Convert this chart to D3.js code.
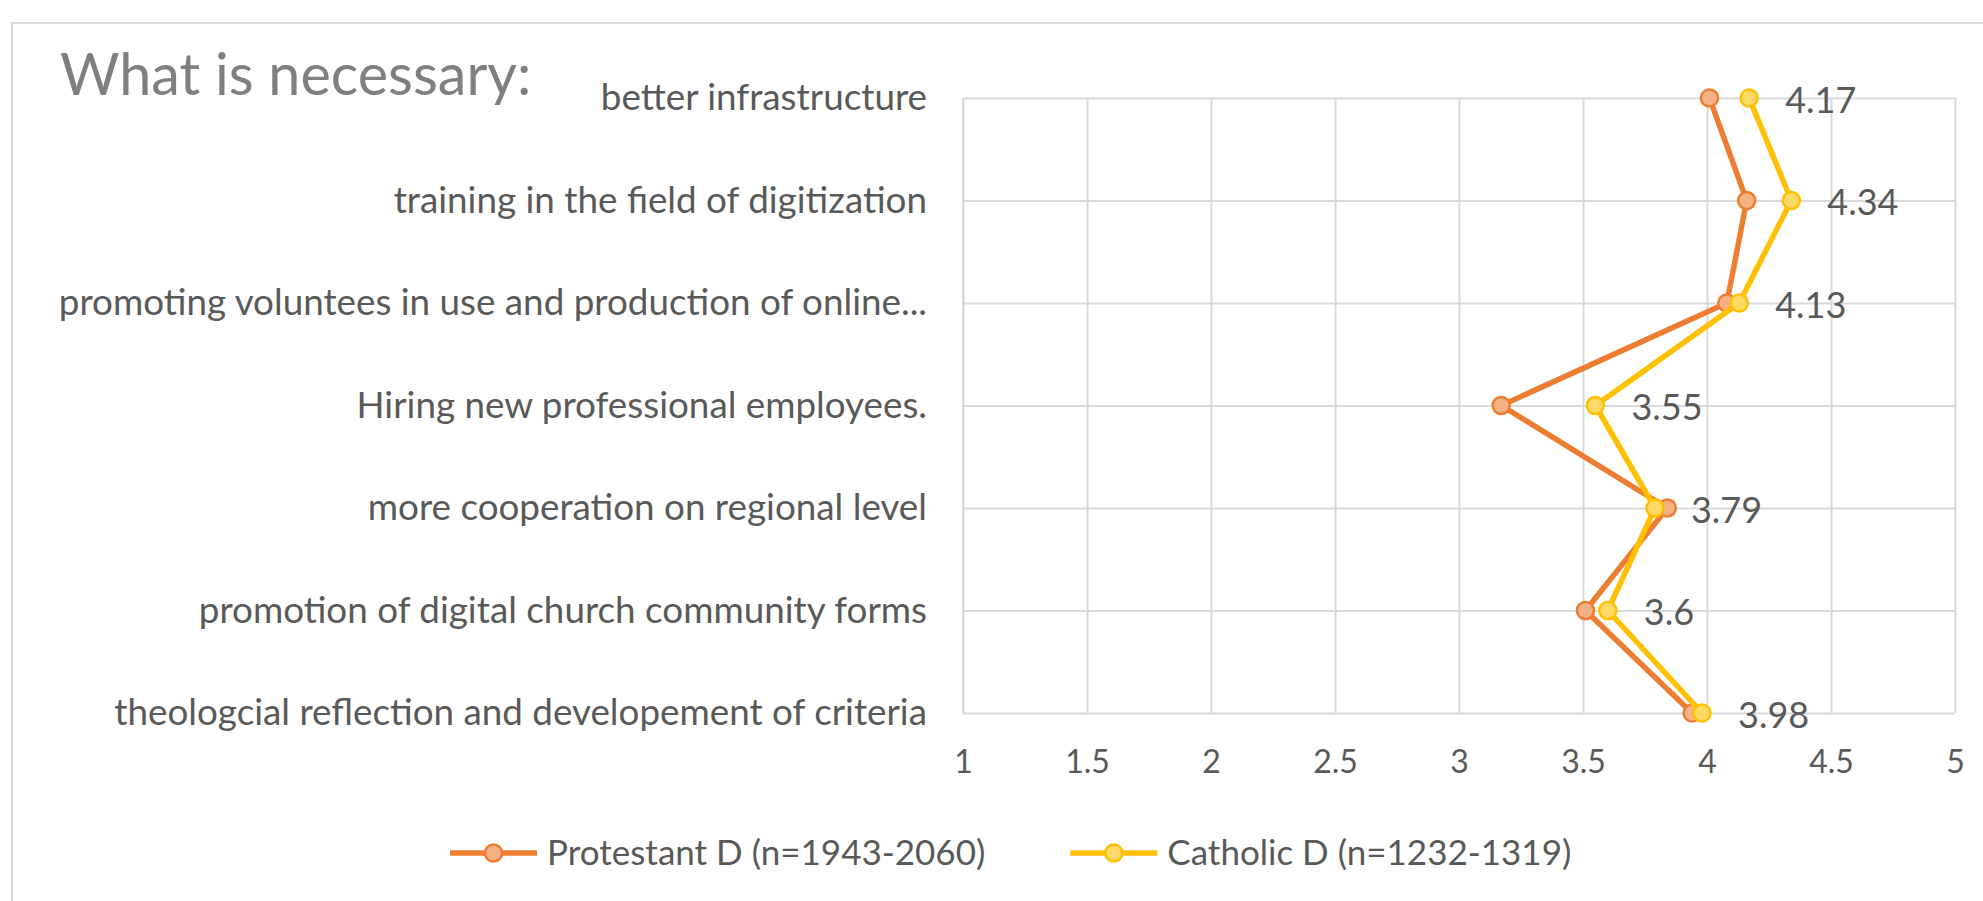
<!DOCTYPE html>
<html>
<head>
<meta charset="utf-8">
<script src="https://cdn.jsdelivr.net/npm/d3@7"></script>
<style>
  html, body { margin: 0; padding: 0; background: #ffffff; }
  svg { display: block; font-family: Lato, "Open Sans", sans-serif; }
</style>
</head>
<body>
<svg id="chart" width="1983" height="901"></svg>
<script>
// ---- data ----
const categories = [
  "better infrastructure",
  "training in the field of digitization",
  "promoting voluntees in use and production of online...",
  "Hiring new professional employees.",
  "more cooperation on regional level",
  "promotion of digital church community forms",
  "theologcial reflection and developement of criteria"
];
const protestant = [4.01, 4.16, 4.08, 3.17, 3.84, 3.51, 3.94];
const catholic   = [4.17, 4.34, 4.13, 3.55, 3.79, 3.60, 3.98];
const catholicLabels = ["4.17", "4.34", "4.13", "3.55", "3.79", "3.6", "3.98"];
const xTicks = [1, 1.5, 2, 2.5, 3, 3.5, 4, 4.5, 5];
const seriesNames = ["Protestant D (n=1943-2060)", "Catholic D (n=1232-1319)"];
const titleText = "What is necessary:";

// ---- styles ----
const colors = [
  { line: "#ED7D31", fill: "#F4B183" },
  { line: "#FFC000", fill: "#FFD966" }
];
const gridColor = "#d9d9d9";
const textColor = "#595959";

const svg = d3.select("#chart");

// chart area border
svg.append("rect")
  .attr("x", 12).attr("y", 23)
  .attr("width", 2000).attr("height", 1000)
  .attr("fill", "#ffffff")
  .attr("stroke", gridColor).attr("stroke-width", 2);

const x = d3.scaleLinear().domain([1, 5]).range([963, 1955]);
const y = d3.scalePoint().domain(categories).range([98, 713]);

// vertical grid lines via axis
const gx = svg.append("g")
  .attr("transform", `translate(0,${y.range()[1]})`)
  .call(d3.axisBottom(x).tickValues(xTicks)
    .tickSize(-(y.range()[1] - y.range()[0]))
    .tickFormat(d3.format("~g"))
    .tickPadding(37));
gx.select(".domain").remove();
gx.selectAll(".tick line").attr("stroke", gridColor).attr("stroke-width", 2);
gx.selectAll(".tick text")
  .attr("fill", textColor)
  .attr("font-size", 32)
  .attr("font-family", "Lato, sans-serif");

// horizontal grid lines + category labels via axis
const gy = svg.append("g")
  .attr("transform", `translate(${x.range()[0]},0)`)
  .call(d3.axisLeft(y)
    .tickSize(-(x.range()[1] - x.range()[0]))
    .tickPadding(36));
gy.select(".domain").remove();
gy.selectAll(".tick line").attr("stroke", gridColor).attr("stroke-width", 2);
gy.selectAll(".tick text")
  .attr("fill", textColor)
  .attr("font-size", 36.8)
  .attr("font-family", "Lato, sans-serif");

// left edge of plot
svg.append("line")
  .attr("x1", x.range()[0]).attr("x2", x.range()[0])
  .attr("y1", y.range()[0]).attr("y2", y.range()[1])
  .attr("stroke", gridColor).attr("stroke-width", 2);

// series
const allSeries = [protestant, catholic];
const line = d3.line()
  .x(d => x(d.v))
  .y(d => y(d.c));

allSeries.forEach((vals, i) => {
  const pts = vals.map((v, j) => ({ v, c: categories[j] }));
  svg.append("path")
    .datum(pts)
    .attr("d", line)
    .attr("fill", "none")
    .attr("stroke", colors[i].line)
    .attr("stroke-width", 5.5)
    .attr("stroke-linejoin", "round");
  svg.append("g").selectAll("circle")
    .data(pts)
    .join("circle")
    .attr("cx", d => x(d.v))
    .attr("cy", d => y(d.c))
    .attr("r", 8.5)
    .attr("fill", colors[i].fill)
    .attr("stroke", colors[i].line)
    .attr("stroke-width", 2.5);
});

// data labels for Catholic series
svg.append("g").selectAll("text")
  .data(catholic.map((v, j) => ({ v, c: categories[j], t: catholicLabels[j] })))
  .join("text")
  .attr("x", d => x(d.v) + 36)
  .attr("y", d => y(d.c) + 2)
  .attr("dy", "0.35em")
  .attr("fill", textColor)
  .attr("font-size", 36)
  .text(d => d.t);

// title
svg.append("text")
  .attr("x", 60).attr("y", 95)
  .attr("fill", "#7f7f7f")
  .attr("font-size", 57.5)
  .text(titleText);

// legend
const legend = svg.append("g").attr("transform", "translate(450,853)");
let lx = 0;
seriesNames.forEach((name, i) => {
  const g = legend.append("g").attr("transform", `translate(${lx},0)`);
  g.append("line")
    .attr("x1", 0).attr("x2", 87)
    .attr("stroke", colors[i].line).attr("stroke-width", 5.5);
  g.append("circle")
    .attr("cx", 43.5).attr("r", 8.5)
    .attr("fill", colors[i].fill)
    .attr("stroke", colors[i].line).attr("stroke-width", 2.5);
  const t = g.append("text")
    .attr("x", 97).attr("dy", "0.35em")
    .attr("fill", textColor)
    .attr("font-size", 35)
    .text(name);
  lx += 97 + t.node().getComputedTextLength() + 85;
});
</script>
</body>
</html>
